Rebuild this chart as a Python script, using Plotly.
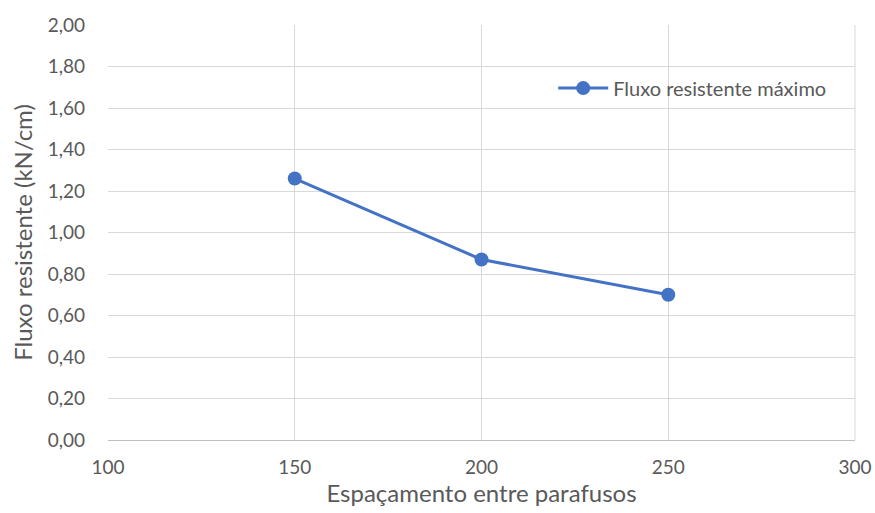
import plotly.graph_objects as go

# Bolt spacing vs. maximum resisting shear flow
espacamento = [150, 200, 250]
fluxo_max = [1.26, 0.87, 0.70]
serie_nome = "Fluxo resistente máximo"

fonte = "Lato, 'Open Sans', sans-serif"
cinza_txt = "#595959"
cinza_grade = "#D9D9D9"
azul = "#4472C4"

fig = go.Figure()
fig.add_trace(go.Scatter(
    x=espacamento, y=fluxo_max, name=serie_nome,
    mode="lines+markers",
    line=dict(color=azul, width=3),
    marker=dict(color=azul, size=14),
    showlegend=True,
))

fig.update_layout(
    width=875, height=513,
    margin=dict(l=108, r=20, t=25, b=73, autoexpand=False),
    paper_bgcolor="white", plot_bgcolor="white",
    separators=",.",
    font=dict(family=fonte, color=cinza_txt, size=19),
    xaxis=dict(
        range=[100, 300], dtick=50, tick0=100,
        showgrid=True, gridcolor=cinza_grade, gridwidth=1,
        showline=True, linecolor="#BFBFBF", linewidth=1, mirror=False,
        zeroline=False, ticks="", ticklabelstandoff=10, automargin=False,
        title=dict(text="Espaçamento entre parafusos", font=dict(size=24, color=cinza_txt), standoff=6),
    ),
    yaxis=dict(
        range=[0, 2], dtick=0.2, tickformat=".2f",
        showgrid=True, gridcolor=cinza_grade, gridwidth=1,
        zeroline=False, ticks="", ticklabelstandoff=22, automargin=False,
        title=dict(text="Fluxo resistente (kN/cm)", font=dict(size=24, color=cinza_txt), standoff=8),
    ),
    legend=dict(
        x=0.596, y=0.848, xanchor="left", yanchor="middle",
        bgcolor="rgba(0,0,0,0)", borderwidth=0,
        font=dict(size=20, color=cinza_txt),
        itemwidth=50,
    ),
)

# White box behind the legend, covering the gridlines
fig.add_shape(type="rect", xref="paper", yref="paper",
              x0=0.5797, x1=0.9826, y0=0.776, y1=0.928,
              fillcolor="white", line=dict(width=0), layer="between")

# Right border gridline of the plot area
fig.add_shape(type="line", xref="paper", yref="paper", x0=1, x1=1, y0=0, y1=1,
              line=dict(color=cinza_grade, width=1), layer="between")

fig.write_html("out.html")
